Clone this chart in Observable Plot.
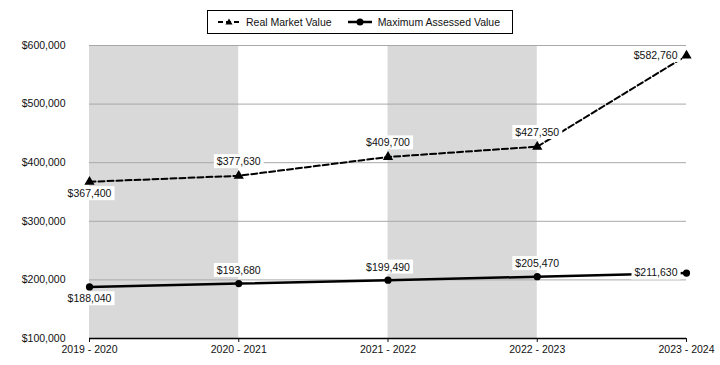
<!DOCTYPE html>
<html><head><meta charset="utf-8">
<script src="https://cdn.jsdelivr.net/npm/d3@7"></script>
<script src="https://cdn.jsdelivr.net/npm/@observablehq/plot@0.6"></script>
<style>
body{margin:0;background:#fff;font-family:"Liberation Sans",Arial,sans-serif;}
#legend{height:38px;display:flex;justify-content:center;align-items:flex-end;box-sizing:border-box;padding-bottom:4px}
#legend .box{border:1px solid #000;height:22px;display:flex;align-items:center;padding:0 12px 0 10px;font-size:10.5px;color:#111}
#legend .item{display:flex;align-items:center}
#legend .item svg{margin-right:6px}
#legend .item + .item{margin-left:16px}
#chart svg{display:block}
</style>
</head><body>
<div id="legend"><div class="box">
<div class="item"><svg width="22" height="10"><line x1="0" y1="5" x2="22" y2="5" stroke="#000" stroke-width="2" stroke-dasharray="5,3"/><path d="M11,1.5 L14.5,7.5 L7.5,7.5Z" fill="#000"/></svg><span>Real Market Value</span></div>
<div class="item"><svg width="24" height="10"><line x1="0" y1="5" x2="24" y2="5" stroke="#000" stroke-width="2.5"/><circle cx="12" cy="5" r="3.5" fill="#000"/></svg><span>Maximum Assessed Value</span></div>
</div></div>
<div id="chart"></div>
<script>
const years = ["2019 - 2020", "2020 - 2021", "2021 - 2022", "2022 - 2023", "2023 - 2024"];
const realMarketValue = [367400, 377630, 409700, 427350, 582760];
const maxAssessedValue = [188040, 193680, 199490, 205470, 211630];
const yTicks = [100000, 200000, 300000, 400000, 500000, 600000];
const shadedFrom = ["2019 - 2020", "2021 - 2022"];
const shadedTo = ["2020 - 2021", "2022 - 2023"];

const real = years.map((y, i) => ({i, v: realMarketValue[i]}));
const maxA = years.map((y, i) => ({i, v: maxAssessedValue[i]}));
const bands = shadedFrom.map((f, k) => ({x1: years.indexOf(f), x2: years.indexOf(shadedTo[k])}));
const money = d => "$" + d3.format(",")(d);
const last = years.length - 1;
const yDom = [yTicks[0], yTicks[yTicks.length - 1]];

function labels(data, which) {
  const first = data.filter(d => d.i === 0);
  const mid = data.filter(d => d.i > 0 && d.i < last);
  const end = data.filter(d => d.i === last);
  const common = {x: "i", y: "v", text: d => money(d.v), fontSize: 10.5, fill: "#111"};
  return [
    Plot.text(first, {...common, dy: 12}),
    Plot.text(mid, {...common, dy: which === "real" ? -14 : -13}),
    Plot.text(end, {...common, textAnchor: "end", dx: -9})
  ];
}

const chart = Plot.plot({
  width: 720,
  height: 327,
  marginLeft: 89,
  marginRight: 34,
  marginTop: 7,
  marginBottom: 27,
  style: {fontFamily: "'Liberation Sans', Arial, sans-serif", fontSize: "10.5px", color: "#111", background: "#fff"},
  x: {type: "linear", domain: [0, last]},
  y: {domain: yDom},
  marks: [
    Plot.rect(bands, {x1: "x1", x2: "x2", y1: () => yDom[0], y2: () => yDom[1], fill: "#d9d9d9"}),
    Plot.ruleY(yTicks.slice(1), {stroke: "#a8a8a8", strokeWidth: 1}),
    Plot.ruleY([yDom[0]], {stroke: "#000", strokeWidth: 1.5}),
    Plot.axisY({ticks: yTicks, tickFormat: money, tickSize: 0, tickPadding: 24, label: null, fontSize: 10.5}),
    Plot.axisX({ticks: d3.range(years.length), tickFormat: i => years[i], tickSize: 4, tickPadding: 3, label: null, fontSize: 10.5}),
    Plot.line(real, {x: "i", y: "v", stroke: "#000", strokeWidth: 2, strokeDasharray: "6,3"}),
    Plot.dot(real, {x: "i", y: "v", symbol: "triangle", r: 3.8, fill: "#000"}),
    Plot.line(maxA, {x: "i", y: "v", stroke: "#000", strokeWidth: 2.5}),
    Plot.dot(maxA, {x: "i", y: "v", symbol: "circle", r: 3.6, fill: "#000"}),
    ...labels(real, "real"),
    ...labels(maxA, "max")
  ]
});
document.getElementById("chart").append(chart);
const ns = "http://www.w3.org/2000/svg";
chart.querySelectorAll('g[aria-label="text"] text').forEach(t => {
  const b = t.getBBox();
  const r = document.createElementNS(ns, "rect");
  r.setAttribute("x", b.x - 3);
  r.setAttribute("y", b.y - 1);
  r.setAttribute("width", b.width + 6);
  r.setAttribute("height", b.height + 2);
  r.setAttribute("fill", "#fff");
  if (t.getAttribute("transform")) r.setAttribute("transform", t.getAttribute("transform"));
  t.parentNode.insertBefore(r, t);
});
</script>
</body></html>
